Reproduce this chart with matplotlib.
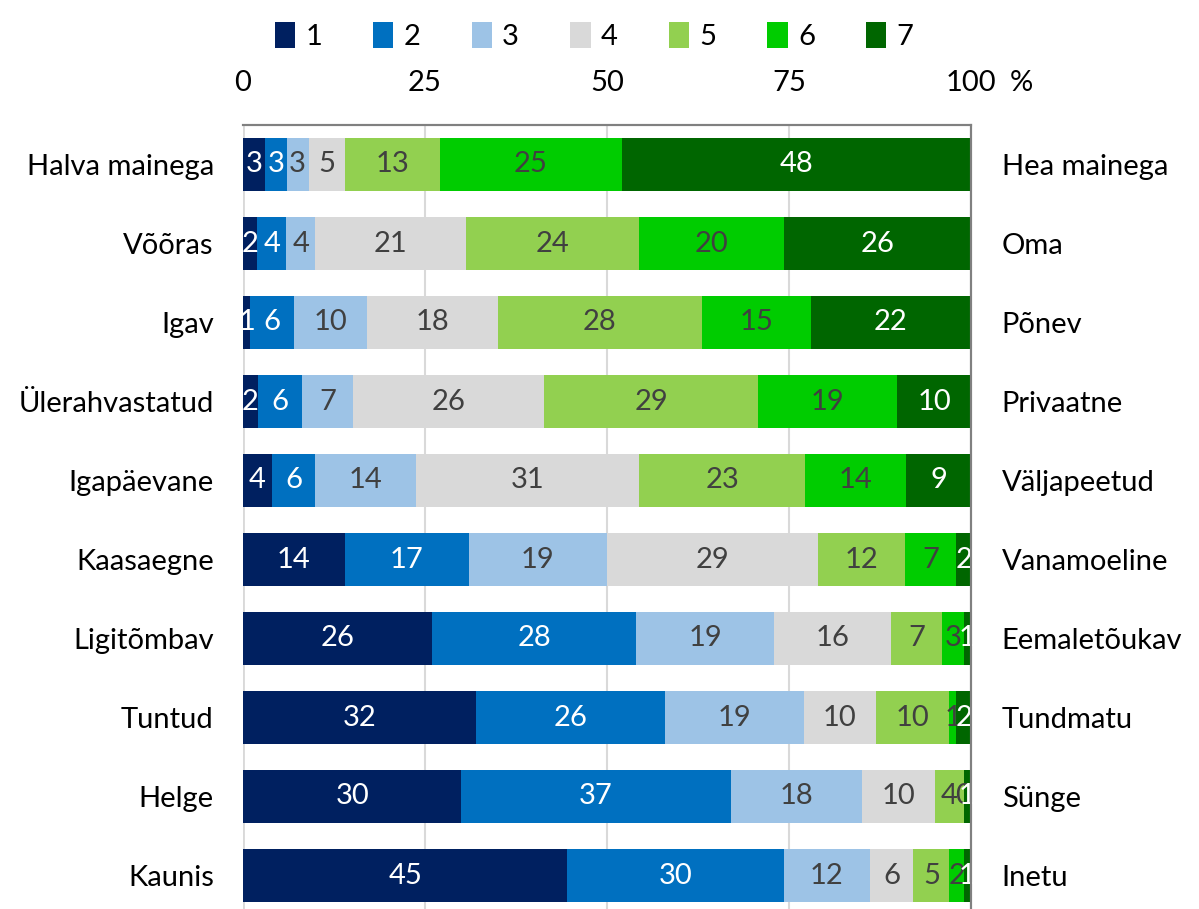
import numpy as np
import matplotlib
matplotlib.use('Agg')
import matplotlib.pyplot as plt
from matplotlib.transforms import offset_copy

# left / right labels of each pair
vasak = ['Halva mainega', 'Võõras', 'Igav', 'Ülerahvastatud', 'Igapäevane',
         'Kaasaegne', 'Ligitõmbav', 'Tuntud', 'Helge', 'Kaunis']
parem = ['Hea mainega', 'Oma', 'Põnev', 'Privaatne', 'Väljapeetud',
         'Vanamoeline', 'Eemaletõukav', 'Tundmatu', 'Sünge', 'Inetu']

# answer shares (%) for scale points 1..7
s1 = [3, 2, 1, 2, 4, 14, 26, 32, 30, 45]
s2 = [3, 4, 6, 6, 6, 17, 28, 26, 37, 30]
s3 = [3, 4, 10, 7, 14, 19, 19, 19, 18, 12]
s4 = [5, 21, 18, 26, 31, 29, 16, 10, 10, 6]
s5 = [13, 24, 28, 29, 23, 12, 7, 10, 4, 5]
s6 = [25, 20, 15, 19, 14, 7, 3, 1, 0, 2]
s7 = [48, 26, 22, 10, 9, 2, 1, 2, 1, 1]

skaala = ['1', '2', '3', '4', '5', '6', '7']
varvid = ['#002060', '#0070C0', '#9DC3E6', '#D9D9D9', '#92D050', '#00CC00', '#006600']
tekstivarv = ['white', 'white', '#404040', '#404040', '#404040', '#404040', 'white']

plt.rcParams['font.family'] = ['Lato', 'DejaVu Sans']
fs = 21

andmed = np.array([s1, s2, s3, s4, s5, s6, s7], dtype=float)
protsent = andmed / andmed.sum(axis=0) * 100  # 100% stacked

W, H = 1199, 909
fig = plt.figure(figsize=(W / 100, H / 100), dpi=100)
ax = fig.add_axes([243 / W, 0, (971 - 243) / W, (909 - 125) / H])

y = np.arange(len(vasak))
vasakul = np.zeros(len(vasak))
for k in range(7):
    bars = ax.barh(y, protsent[k], left=vasakul, height=0.66, color=varvid[k],
                   label=skaala[k], zorder=2)
    ax.bar_label(bars, labels=[str(v) for v in andmed[k].astype(int)],
                 label_type='center', color=tekstivarv[k], fontsize=fs)
    vasakul += protsent[k]

ax.set_xlim(0, 100)
ax.set_ylim(-0.5 + (909 - 125) / 79, -0.5)
ax.set_yticks(y)
ax.set_yticklabels(vasak, fontsize=fs)
ax.tick_params(axis='y', length=0, pad=21)

ax2 = ax.twinx()
ax2.set_ylim(ax.get_ylim())
ax2.set_yticks(y)
ax2.set_yticklabels(parem, fontsize=fs)
ax2.tick_params(axis='y', length=0, pad=22)

ax.xaxis.tick_top()
ax.set_xticks([0, 25, 50, 75, 100])
ax.tick_params(axis='x', length=0, pad=21, labelsize=fs)
ax.grid(axis='x', color='#D9D9D9', linewidth=1.5, zorder=0)
ax.text(1.0, 1.0, '%', fontsize=fs, va='bottom', ha='center',
        transform=offset_copy(ax.transAxes, fig=fig, x=36, y=21, units='points'))

for a in (ax, ax2):
    for side in ['left', 'bottom']:
        a.spines[side].set_visible(False)
    a.spines['top'].set_color('#808080')
    a.spines['top'].set_linewidth(1.5)
    a.spines['right'].set_color('#808080')
    a.spines['right'].set_linewidth(1.5)
ax.axvline(0, color='#D9D9D9', linewidth=2, zorder=1)

fig.legend(loc='upper center', bbox_to_anchor=(594 / W, 1.005), ncol=7,
           frameon=False, fontsize=fs, handlelength=0.7, handleheight=1.0,
           handletextpad=0.35, columnspacing=1.75)

fig.savefig('out.png', dpi=100)
